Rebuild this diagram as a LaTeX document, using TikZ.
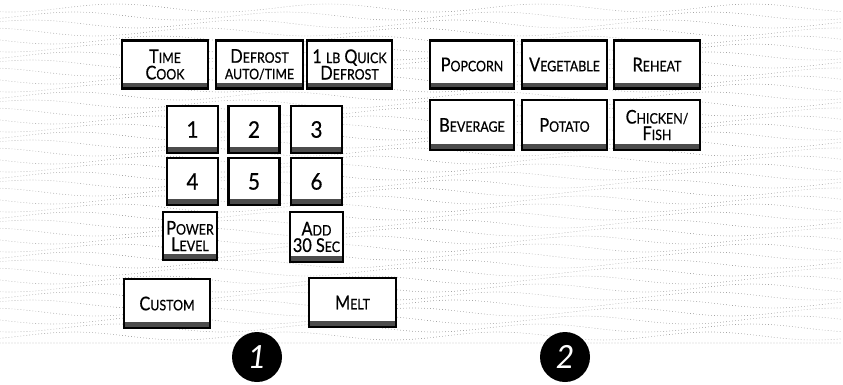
\documentclass[tikz,border=0pt]{standalone}
\usepackage{fontspec}
\usepackage{graphicx}
\setmainfont{Lato}
\newfontfamily\btnf{Lato}[FakeBold=0.6]
\newcommand\Bg[1]{\scalebox{0.86}[1]{\fontsize{19}{19}\selectfont #1}}
\newcommand\Sm[1]{\scalebox{0.86}[1]{\fontsize{14.5}{14.5}\selectfont #1}}
\newcommand\Dg[1]{\scalebox{0.9}[1]{\fontsize{23}{23}\selectfont #1}}
\begin{document}
\begin{tikzpicture}[x=1bp,y=-1bp,
  btn/.style={draw=black, line width=2.4bp, fill=white, align=center, inner sep=0pt,
    minimum height=48bp, font=\btnf\fontsize{16}{16.5}\selectfont,
    path picture={\fill[black!70] (path picture bounding box.south west) rectangle ([yshift=6bp]path picture bounding box.south east);}},
  key/.style={btn, minimum width=51bp, minimum height=47bp},
  texture/.style={draw=black!55, line width=0.7bp, line cap=round, dash pattern=on 0bp off 3bp},
  badge/.style={circle, fill=black, minimum size=50bp, inner sep=0pt, text=white,
    font=\fontsize{32}{32}\selectfont\itshape}]
\useasboundingbox (0,0) rectangle (843,384);
% background texture
\foreach \yy in {8,16,...,336} {
  \draw[texture] plot[domain=0:843, samples=110] (\x, {\yy + 4*sin(\x*1.7 + \yy*9)});
}
\draw[texture] (0,343) -- (843,343);
% top-left row
\node[btn, minimum width=86bp] (timecook) at (165,64.5) {\Bg{T}\Sm{IME}\\\Bg{C}\Sm{OOK}};
\node[btn, minimum width=87bp] (defrost) at (259.5,64.5) {\Bg{D}\Sm{EFROST}\\\Sm{AUTO/TIME}};
\node[btn, minimum width=85bp] (quick) at (349.5,64.5) {\Bg{1} \Sm{LB} \Bg{Q}\Sm{UICK}\\\Bg{D}\Sm{EFROST}};
% right grid
\node[btn, minimum width=84bp] (popcorn) at (472,64.5) {\Bg{P}\Sm{OPCORN}};
\node[btn, minimum width=85bp] (vegetable) at (564.5,64.5) {\Bg{V}\Sm{EGETABLE}};
\node[btn, minimum width=86bp] (reheat) at (657,64.5) {\Bg{R}\Sm{EHEAT}};
\node[btn, minimum width=84bp, minimum height=50bp] (beverage) at (472,125) {\Bg{B}\Sm{EVERAGE}};
\node[btn, minimum width=85bp, minimum height=50bp] (potato) at (564.5,125) {\Bg{P}\Sm{OTATO}};
\node[btn, minimum width=86bp, minimum height=50bp] (chicken) at (657,125) {\Bg{C}\Sm{HICKEN/}\\\Bg{F}\Sm{ISH}};
% number keys
\node[key] (k1) at (192.5,129.5) {\Dg{1}};
\node[key] (k2) at (254,129.5) {\Dg{2}};
\node[key] (k3) at (316.5,129.5) {\Dg{3}};
\node[key] (k4) at (192.5,181.5) {\Dg{4}};
\node[key] (k5) at (254,181.5) {\Dg{5}};
\node[key] (k6) at (316.5,181.5) {\Dg{6}};
\node[btn, minimum width=54bp] (power) at (190,236) {\Bg{P}\Sm{OWER}\\\Bg{L}\Sm{EVEL}};
\node[btn, minimum width=53bp, minimum height=50bp] (add30) at (316.5,237) {\Bg{A}\Sm{DD}\\\Bg{30 S}\Sm{EC}};
\node[btn, minimum width=86bp, minimum height=49bp] (custom) at (167,303.5) {\Bg{C}\Sm{USTOM}};
\node[btn, minimum width=87bp, minimum height=49bp] (melt) at (352.5,302.5) {\Bg{M}\Sm{ELT}};
% badges
\node[badge] (b1) at (257,357) {1};
\node[badge] (b2) at (565,357) {2};
\end{tikzpicture}
\end{document}
